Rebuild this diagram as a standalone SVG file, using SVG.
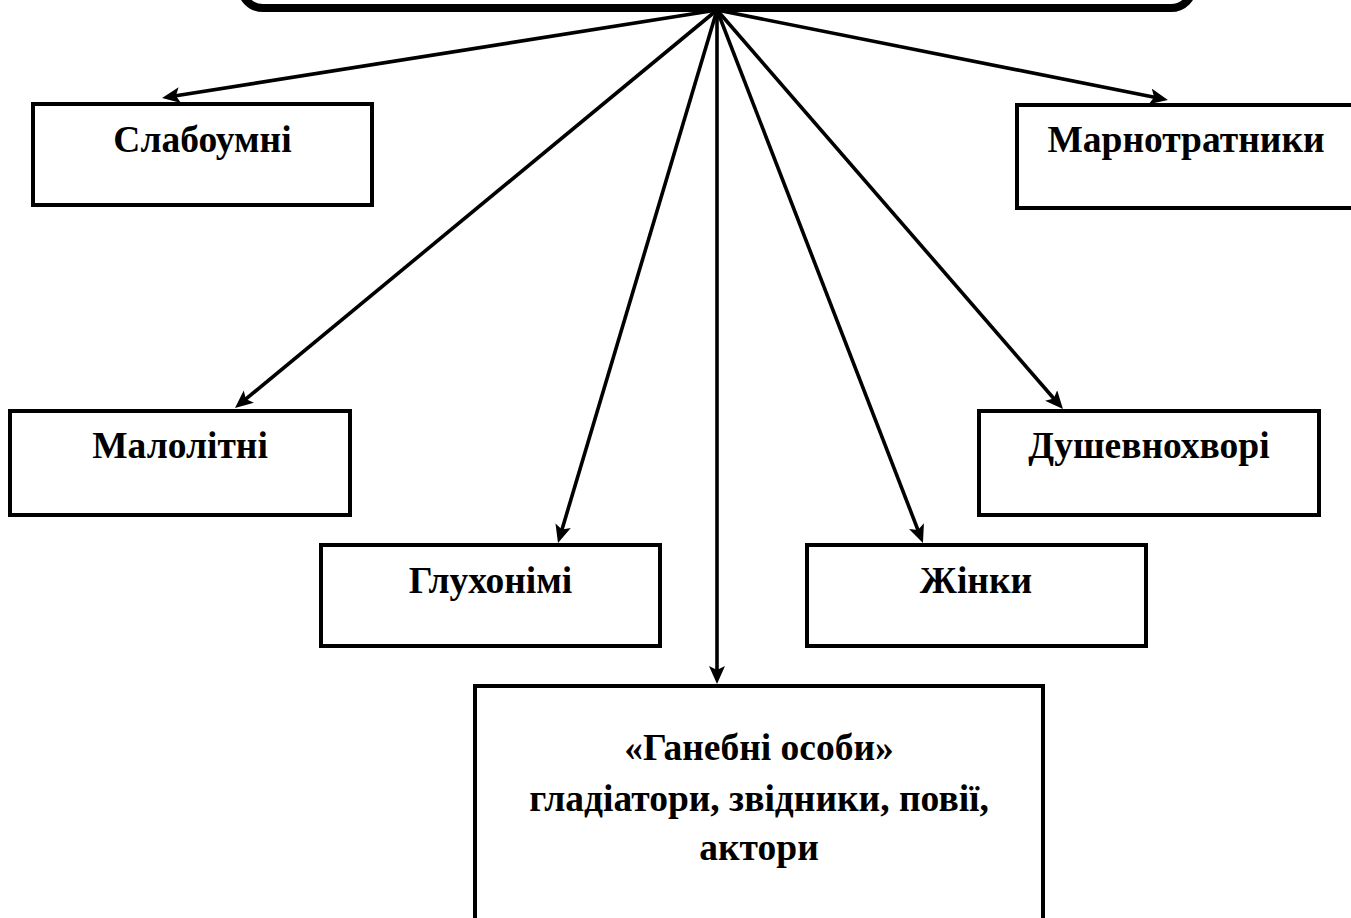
<svg xmlns="http://www.w3.org/2000/svg" width="1351" height="918" viewBox="0 0 1351 918">
<style>
.box{fill:#fff;stroke:#000;stroke-width:4}
.hub{fill:#fff;stroke:#000;stroke-width:8}
.lbl{font-family:"Liberation Serif","Times New Roman",serif;font-weight:bold;font-size:37.5px;fill:#000;text-anchor:middle}
.con{stroke:#000;stroke-width:3.6;fill:none;marker-end:url(#ah)}
</style>
<defs>
<marker id="ah" markerUnits="userSpaceOnUse" markerWidth="20" markerHeight="18" refX="12" refY="8" orient="auto">
<path d="M0,0 L18,8 L0,16 L4,8 z" fill="#000"/>
</marker>
</defs>
<rect width="1351" height="918" fill="#fff"/>
<g id="top">
<rect class="hub" x="241" y="-100" width="952" height="108" rx="22"/>
</g>
<g id="connectors">
<line class="con" x1="717" y1="10" x2="168" y2="97"/>
<line class="con" x1="717" y1="10" x2="1162" y2="98.8"/>
<line class="con" x1="717" y1="10" x2="239.6" y2="404.2"/>
<line class="con" x1="717" y1="10" x2="559.7" y2="537.2"/>
<line class="con" x1="717" y1="10" x2="717" y2="678"/>
<line class="con" x1="717" y1="10" x2="920.8" y2="537.4"/>
<line class="con" x1="717" y1="10" x2="1059" y2="404.5"/>
</g>
<g id="slaboumni">
<rect class="box" x="33" y="104" width="339" height="101"/>
<text class="lbl" x="202.5" y="152">Слабоумні</text>
</g>
<g id="marnotratnyky">
<rect class="box" x="1017" y="105" width="340" height="103"/>
<text class="lbl" x="1186" y="152">Марнотратники</text>
</g>
<g id="malolitni">
<rect class="box" x="10" y="411" width="340" height="104"/>
<text class="lbl" x="180" y="458">Малолітні</text>
</g>
<g id="dushevnokhvori">
<rect class="box" x="979" y="411" width="340" height="104"/>
<text class="lbl" x="1149" y="458">Душевнохворі</text>
</g>
<g id="glukhonimi">
<rect class="box" x="321" y="545" width="339" height="101"/>
<text class="lbl" x="490.5" y="593">Глухонімі</text>
</g>
<g id="zhinky">
<rect class="box" x="807" y="545" width="339" height="101"/>
<text class="lbl" x="976" y="593">Жінки</text>
</g>
<g id="hanebni">
<rect class="box" x="475" y="686" width="568" height="260"/>
<text class="lbl" x="759" y="760">«Ганебні особи»</text>
<text class="lbl" x="759" y="811">гладіатори, звідники, повії,</text>
<text class="lbl" x="759" y="860">актори</text>
</g>
</svg>
